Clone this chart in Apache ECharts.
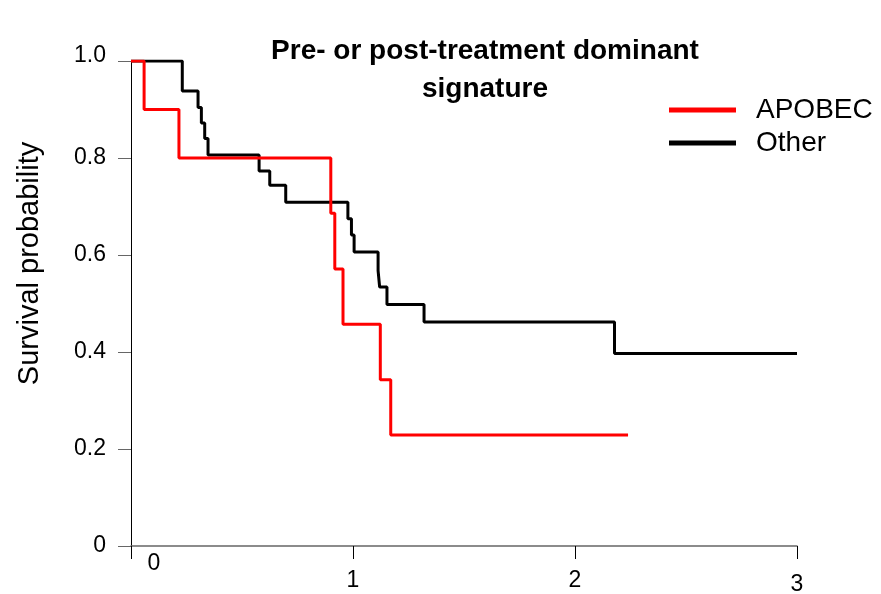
<!DOCTYPE html>
<html>
<head>
<meta charset="utf-8">
<title>Pre- or post-treatment dominant signature</title>
<script src="https://cdn.jsdelivr.net/npm/echarts@6/dist/echarts.min.js"></script>
<style>
  html, body { margin: 0; padding: 0; background: #fff; }
  #chart { width: 881px; height: 594px; }
</style>
</head>
<body>
<div id="chart"></div>
<script>
// 生存曲线数据
const apobecTime = [0, 0.059, 0.216, 0.900, 0.918, 0.955, 1.123, 1.170, 2.239];
const apobecSurv = [1.0, 0.900, 0.800, 0.686, 0.571, 0.457, 0.343, 0.229, 0.229];

const otherTime = [0, 0.231, 0.302, 0.317, 0.332, 0.347, 0.577, 0.625, 0.697,
  0.977, 0.993, 1.005, 1.113, 1.120, 1.153, 1.320, 2.178, 3.0];
const otherSurv = [1.0, 0.938, 0.904, 0.872, 0.840, 0.806, 0.773, 0.744, 0.709,
  0.675, 0.641, 0.606, 0.568, 0.534, 0.498, 0.462, 0.397, 0.397];

const seriesNames = ['APOBEC', 'Other'];
const xTickLabels = ['0', '1', '2', '3'];
const yTickLabels = ['0', '0.2', '0.4', '0.6', '0.8', '1.0'];

const FONT = "'Liberation Sans', Arial, sans-serif";

function zip(xs, ys) {
  return xs.map((x, i) => [x, ys[i]]);
}

const chart = echarts.init(document.getElementById('chart'));

chart.setOption({
  backgroundColor: '#fff',
  animation: false,
  title: {
    text: 'Pre- or post-treatment dominant\nsignature',
    left: 480,
    top: 27,
    textAlign: 'center',
    textStyle: {
      fontFamily: FONT,
      fontSize: 28,
      fontWeight: 'bold',
      color: '#000',
      lineHeight: 38
    }
  },
  legend: {
    data: seriesNames,
    orient: 'vertical',
    left: 664,
    top: 91,
    icon: 'rect',
    itemWidth: 67,
    itemHeight: 5,
    itemGap: 5,
    textStyle: {
      fontFamily: FONT,
      fontSize: 28,
      lineHeight: 28,
      color: '#000',
      padding: [0, 0, 0, 15]
    }
  },
  grid: {
    left: 131,
    right: 84,
    top: 61,
    bottom: 48,
    containLabel: false,
    outerBoundsMode: 'none'
  },
  xAxis: {
    type: 'value',
    min: 0,
    max: 3,
    interval: 1,
    splitLine: { show: false },
    axisLine: { show: true, lineStyle: { color: '#666', width: 1.5 } },
    axisTick: { show: true, length: 13, lineStyle: { color: '#000', width: 1 } },
    axisLabel: {
      margin: 6,
      fontFamily: FONT,
      fontSize: 23,
      color: '#000',
      formatter: function (v) {
        const label = xTickLabels[Math.round(v)];
        if (v === 0) return '{z|' + label + '}';
        if (v === 3) return '{c|' + label + '}';
        return '{n|' + label + '}';
      },
      rich: {
        z: { padding: [0, 0, 0, 46] },
        n: { padding: [17, 0, 0, 0] },
        c: { padding: [21, 0, 0, 0] }
      }
    }
  },
  yAxis: {
    type: 'value',
    min: 0,
    max: 1,
    interval: 0.2,
    name: 'Survival probability',
    nameLocation: 'middle',
    nameGap: 87,
    nameTextStyle: {
      fontFamily: FONT,
      fontSize: 29,
      color: '#000',
      padding: [0, 0, 0, 80]
    },
    splitLine: { show: false },
    axisLine: { show: true, lineStyle: { color: '#000', width: 1 } },
    axisTick: { show: true, length: 13, lineStyle: { color: '#666', width: 1 } },
    axisLabel: {
      margin: 25,
      fontFamily: FONT,
      fontSize: 23,
      color: '#000',
      formatter: function (v) {
        const label = yTickLabels[Math.round(v * 5)];
        if (Math.round(v * 5) === 5) return '{t|' + label + '}';
        return label;
      },
      rich: {
        t: { padding: [0, 0, 10, 0] }
      }
    }
  },
  series: [
    {
      name: 'Other',
      type: 'line',
      step: 'end',
      data: zip(otherTime, otherSurv),
      showSymbol: false,
      z: 2,
      itemStyle: { color: '#000' },
      lineStyle: { color: '#000', width: 3 }
    },
    {
      name: 'APOBEC',
      type: 'line',
      step: 'end',
      data: zip(apobecTime, apobecSurv),
      showSymbol: false,
      z: 3,
      itemStyle: { color: '#ff0000' },
      lineStyle: { color: '#ff0000', width: 3 }
    }
  ]
});
</script>
</body>
</html>
